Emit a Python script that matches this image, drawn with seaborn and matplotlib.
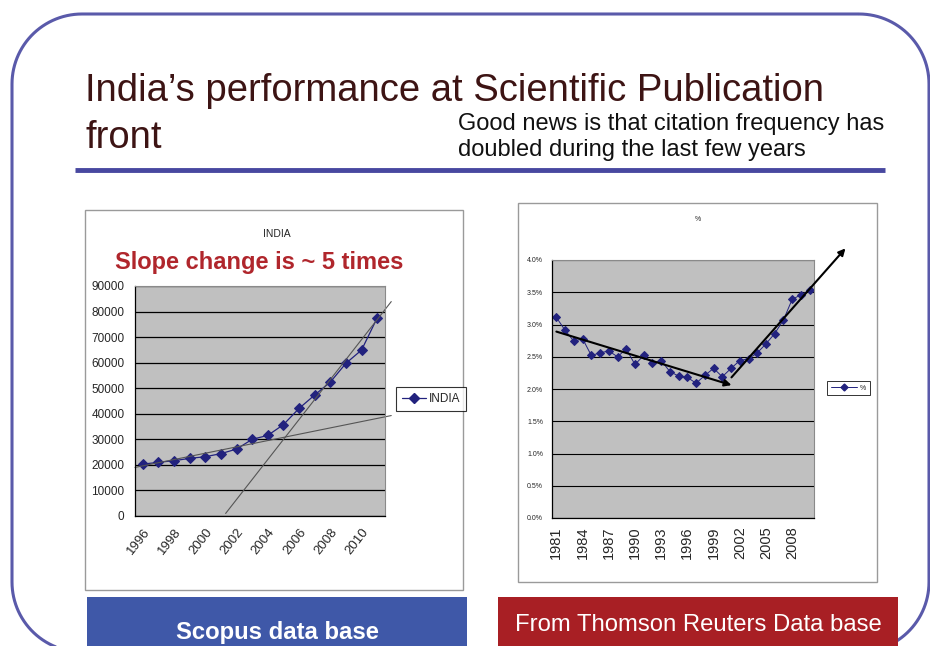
import numpy as np
import pandas as pd
import matplotlib
matplotlib.use("Agg")
import matplotlib.pyplot as plt
from matplotlib.patches import Rectangle, Polygon
from matplotlib.lines import Line2D
from matplotlib.ticker import FuncFormatter, MultipleLocator
import seaborn as sns

sns.set_style("white")
plt.rcParams['font.family'] = ['Liberation Sans', 'DejaVu Sans']

# ---- data ----
scopus_years = list(range(1996, 2012))
scopus_papers = [20300, 21000, 21650, 22550, 23200, 24400, 26200, 30000,
                 31550, 35750, 42100, 47350, 52400, 59750, 64950, 77500]
# hand-drawn trend lines (year, papers)
trend_slow_x = [1995.5, 2011.9]
trend_slow_y = [19000, 39300]
trend_fast_x = [2001.3, 2011.9]
trend_fast_y = [1000, 83900]

tr_years = list(range(1981, 2011))
tr_share = [3.11, 2.91, 2.74, 2.78, 2.52, 2.56, 2.59, 2.50, 2.62, 2.38,
            2.52, 2.40, 2.44, 2.27, 2.20, 2.18, 2.09, 2.21, 2.32, 2.19,
            2.32, 2.44, 2.47, 2.56, 2.70, 2.86, 3.07, 3.39, 3.46, 3.53]
# trend arrows (start year, start %, end year, end %)
arrow_down = (1981.0, 2.89, 2001.05, 2.06)
arrow_up = (2001.05, 2.18, 2014.1, 4.18)

W, H = 930, 646
fig = plt.figure(figsize=(9.3, 6.46), dpi=100)
fig.patch.set_facecolor('white')

bg = fig.add_axes([0, 0, 1, 1])
bg.set_xlim(0, W)
bg.set_ylim(H, 0)
bg.axis('off')


def px_rect(x0, y0, x1, y1):
    return [x0 / W, 1 - y1 / H, (x1 - x0) / W, (y1 - y0) / H]


def rounded_frame(x0, y0, x1, y1, r):
    # rounded rectangle outline in pixel coords (y grows downward)
    pts = []
    corners = [((x1 - r, y0 + r), -90, 0), ((x1 - r, y1 - r), 0, 90),
               ((x0 + r, y1 - r), 90, 180), ((x0 + r, y0 + r), 180, 270)]
    for (cx, cy), a0, a1 in corners:
        t = np.radians(np.linspace(a0, a1, 30))
        pts.append(np.column_stack([cx + r * np.cos(t), cy + r * np.sin(t)]))
    return np.vstack(pts)


bg.add_patch(Polygon(rounded_frame(12, 14, 929, 652, 70), closed=True,
                     fill=False, ec='#5a5aaa', lw=2.2, zorder=0,
                     joinstyle='round'))

bg.text(85, 101, "India\u2019s performance at Scientific Publication",
        fontsize=27.5, color='#3d1414', va='baseline')
bg.text(85, 148, "front", fontsize=27.5, color='#3d1414', va='baseline')
bg.text(458, 130, "Good news is that citation frequency has",
        fontsize=17, color='#111111', va='baseline')
bg.text(458, 156, "doubled during the last few years",
        fontsize=17, color='#111111', va='baseline')
bg.plot([75, 885], [170, 170], color='#4848a0', lw=3.5, solid_capstyle='butt')

# chart panels
bg.add_patch(Rectangle((85, 210), 378, 380, fc='white', ec='#9a9a9a', lw=1))
bg.add_patch(Rectangle((518, 203), 359, 379, fc='white', ec='#9a9a9a', lw=1))

# bottom boxes
bg.add_patch(Rectangle((87, 597), 380, 60, fc='#3f58a8', ec='none'))
bg.text(277, 632, "Scopus data base", fontsize=17.2, color='white',
        fontweight='bold', ha='center', va='center')
bg.add_patch(Rectangle((498, 597), 400, 60, fc='#a81f24', ec='none'))
bg.text(698, 625, "From Thomson Reuters Data base", fontsize=17.2, color='white',
        ha='center', va='center')

line_col = '#22227e'

# ---- left chart: Scopus ----
axl = fig.add_axes(px_rect(135, 286, 385, 516))
df_l = pd.DataFrame({'year': scopus_years, 'papers': scopus_papers})
sns.lineplot(data=df_l, x='year', y='papers', ax=axl, color=line_col,
             lw=0.9, marker='D', markersize=5, markeredgecolor=line_col)
axl.set_facecolor('#c0c0c0')
axl.set_xlim(1995.5, 2011.5)
axl.set_ylim(0, 90000)
axl.yaxis.set_major_locator(MultipleLocator(10000))
axl.grid(axis='y', color='black', lw=0.9)
axl.set_axisbelow(True)
axl.set_xticks(list(range(1996, 2011, 2)))
axl.set_xticklabels([str(y) for y in range(1996, 2011, 2)], rotation=52,
                    ha='right', rotation_mode='anchor', fontsize=9.5)
axl.set_xticks(np.arange(1995.5, 2012, 1), minor=True)
axl.tick_params(axis='x', which='major', length=0, pad=7)
axl.tick_params(axis='x', which='minor', length=4, direction='out', color='black')
axl.tick_params(axis='y', length=4, direction='out', color='black', labelsize=8.5)
axl.set_xlabel('')
axl.set_ylabel('')
for s in ['top', 'right']:
    axl.spines[s].set_color('#8a8a8a')
    axl.spines[s].set_linewidth(0.8)
for s in ['left', 'bottom']:
    axl.spines[s].set_color('black')
    axl.spines[s].set_linewidth(0.9)
axl.plot(trend_slow_x, trend_slow_y, color='#555555', lw=0.8, clip_on=False)
axl.plot(trend_fast_x, trend_fast_y, color='#555555', lw=0.8, clip_on=False)
fig.text(277 / W, 1 - 234 / H, "INDIA", fontsize=7.5, ha='center', va='center')
fig.text(259 / W, 1 - 262 / H, "Slope change is ~ 5 times", fontsize=17,
         fontweight='bold', color='#b0262c', ha='center', va='center')
h = Line2D([], [], color=line_col, lw=0.9, marker='D', markersize=5)
leg = axl.legend([h], ['INDIA'], loc='center left', bbox_to_anchor=(396 / W, 1 - 399 / H),
                 bbox_transform=fig.transFigure, frameon=True, fancybox=False,
                 handlelength=2.0, borderpad=0.55, handletextpad=0.2,
                 borderaxespad=0, prop={'size': 8.5})
leg.get_frame().set_edgecolor('black')
leg.get_frame().set_linewidth(0.8)

# ---- right chart: Thomson Reuters ----
axr = fig.add_axes(px_rect(552, 260, 814, 518))
df_r = pd.DataFrame({'year': tr_years, 'share': tr_share})
sns.lineplot(data=df_r, x='year', y='share', ax=axr, color=line_col,
             lw=0.7, marker='D', markersize=4.5, markeredgecolor=line_col)
axr.set_facecolor('#c0c0c0')
axr.set_xlim(1980.5, 2010.5)
axr.set_ylim(0, 4.0)
axr.yaxis.set_major_locator(MultipleLocator(0.5))
axr.yaxis.set_major_formatter(FuncFormatter(lambda v, p: f"{v:.1f}%"))
axr.grid(axis='y', color='black', lw=0.8)
axr.set_axisbelow(True)
axr.set_xticks(list(range(1981, 2011, 3)))
axr.set_xticklabels([str(y) for y in range(1981, 2011, 3)], rotation=90,
                    fontsize=10.5)
axr.set_xticks(np.arange(1980.5, 2011, 1), minor=True)
axr.tick_params(axis='x', which='major', length=0, pad=6)
axr.tick_params(axis='x', which='minor', length=3, direction='out', color='black')
axr.tick_params(axis='y', length=3, direction='out', color='black', labelsize=5)
axr.set_xlabel('')
axr.set_ylabel('')
for s in ['top', 'right']:
    axr.spines[s].set_color('#8a8a8a')
    axr.spines[s].set_linewidth(0.8)
for s in ['left', 'bottom']:
    axr.spines[s].set_color('black')
    axr.spines[s].set_linewidth(0.9)
for (x0, y0, x1, y1) in [arrow_down, arrow_up]:
    axr.annotate('', xy=(x1, y1), xytext=(x0, y0), annotation_clip=False,
                 arrowprops=dict(arrowstyle='-|>', color='black', lw=1.5,
                                 mutation_scale=10, shrinkA=0, shrinkB=0))
fig.text(698 / W, 1 - 220 / H, "%", fontsize=5, ha='center', va='center')
h2 = Line2D([], [], color=line_col, lw=0.7, marker='D', markersize=3.5)
leg2 = axr.legend([h2], ['%'], loc='center left', bbox_to_anchor=(827 / W, 1 - 388 / H),
                  bbox_transform=fig.transFigure, frameon=True, fancybox=False,
                  handlelength=3.8, borderpad=0.55, handletextpad=0.4,
                  borderaxespad=0, prop={'size': 5})
leg2.get_frame().set_edgecolor('black')
leg2.get_frame().set_linewidth(0.7)

fig.savefig("out.png", dpi=100)
